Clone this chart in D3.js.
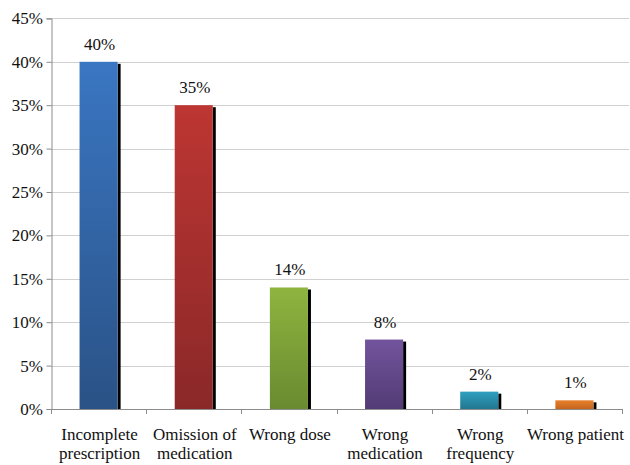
<!DOCTYPE html>
<html>
<head>
<meta charset="utf-8">
<script src="https://cdn.jsdelivr.net/npm/d3@7"></script>
<style>
  html, body { margin: 0; padding: 0; background: #fff; }
  svg { display: block; }
</style>
</head>
<body>
<svg id="chart" width="630" height="465"></svg>
<script>
// Medication error types and their share of all errors (%)
const categories = [
  ["Incomplete", "prescription"],
  ["Omission of", "medication"],
  ["Wrong dose"],
  ["Wrong", "medication"],
  ["Wrong", "frequency"],
  ["Wrong patient"]
];
const values = [40, 35, 14, 8, 2, 1];
const yTicks = [0, 5, 10, 15, 20, 25, 30, 35, 40, 45];
const barColors = [
  ["#3a76c2", "#2a5286"],
  ["#bd3633", "#8a2828"],
  ["#8fb43f", "#6a8a30"],
  ["#72549c", "#523b75"],
  ["#2f9fbf", "#227790"],
  ["#e8802c", "#c5651d"]
];

(function () {
  const FONT = "Times New Roman";
  const FS = 17;
  const svg = d3.select("#chart");
  const plotLeft = 51, plotRight = 622, plotTop = 18.4, plotBottom = 409;

  const x = d3.scaleBand()
    .domain(d3.range(values.length))
    .range([plotLeft, plotRight])
    .paddingInner(0.6)
    .paddingOuter(0.3);

  const y = d3.scaleLinear().domain([0, 45]).range([plotBottom, plotTop]);

  // Vertical gradients for each bar
  const defs = svg.append("defs");
  barColors.forEach((c, i) => {
    const g = defs.append("linearGradient")
      .attr("id", "grad" + i)
      .attr("x1", 0).attr("y1", 0).attr("x2", 0).attr("y2", 1);
    g.append("stop").attr("offset", "0%").attr("stop-color", c[0]);
    g.append("stop").attr("offset", "100%").attr("stop-color", c[1]);
  });

  // Horizontal gridlines
  svg.append("g")
    .selectAll("line")
    .data(yTicks.slice(1))
    .join("line")
    .attr("x1", plotLeft).attr("x2", 629)
    .attr("y1", d => Math.round(y(d)) + 0.5)
    .attr("y2", d => Math.round(y(d)) + 0.5)
    .attr("stroke", "#d0d0d0")
    .attr("stroke-width", 1);

  // Y axis line and ticks
  const yAxis = svg.append("g")
    .attr("transform", `translate(${plotLeft + 0.5},0)`)
    .call(d3.axisLeft(y).tickValues(yTicks).tickFormat("").tickSize(5));
  yAxis.attr("font-family", null).attr("font-size", null);
  yAxis.selectAll(".tick text").remove();
  yAxis.select(".domain").attr("stroke", "#8c8c8c");
  yAxis.selectAll(".tick line").attr("stroke", "#8c8c8c");

  // Y tick labels
  svg.append("g")
    .selectAll("text")
    .data(yTicks)
    .join("text")
    .attr("x", plotLeft - 8)
    .attr("y", d => y(d))
    .attr("dy", "0.35em")
    .attr("text-anchor", "end")
    .attr("font-family", FONT)
    .attr("font-size", FS)
    .attr("fill", "#111")
    .text(d => d + "%");

  // X axis with ticks at category boundaries
  const xAxisG = svg.append("g");
  xAxisG.append("line")
    .attr("x1", plotLeft).attr("x2", plotRight + 1)
    .attr("y1", plotBottom + 0.5).attr("y2", plotBottom + 0.5)
    .attr("stroke", "#8c8c8c");
  const boundaries = d3.range(values.length + 1)
    .map(i => plotLeft + i * (plotRight - plotLeft) / values.length);
  xAxisG.selectAll("line.tk")
    .data(boundaries)
    .join("line")
    .attr("class", "tk")
    .attr("x1", d => Math.round(d) + 0.5).attr("x2", d => Math.round(d) + 0.5)
    .attr("y1", plotBottom).attr("y2", plotBottom + 5)
    .attr("stroke", "#8c8c8c");

  // Bars with a dark shadow on the right, plus value labels
  const bars = svg.append("g");
  values.forEach((v, i) => {
    const bx = x(i), bw = x.bandwidth(), by = y(v);
    bars.append("rect")
      .attr("x", bx + bw).attr("y", by + 2)
      .attr("width", 3).attr("height", plotBottom - by - 2)
      .attr("fill", "#000");
    bars.append("rect")
      .attr("x", bx).attr("y", by)
      .attr("width", bw).attr("height", plotBottom - by)
      .attr("fill", `url(#grad${i})`);
    svg.append("text")
      .attr("x", bx + bw / 2 + 1)
      .attr("y", by - 12)
      .attr("text-anchor", "middle")
      .attr("font-family", FONT)
      .attr("font-size", FS)
      .attr("fill", "#111")
      .text(v + "%");
  });

  // Category labels
  categories.forEach((lines, i) => {
    const cx = x(i) + x.bandwidth() / 2 + 1;
    const t = svg.append("text")
      .attr("text-anchor", "middle")
      .attr("font-family", FONT)
      .attr("font-size", FS)
      .attr("fill", "#111");
    lines.forEach((l, j) => {
      t.append("tspan").attr("x", cx).attr("y", 440 + j * 19).text(l);
    });
  });
})();
</script>
</body>
</html>
